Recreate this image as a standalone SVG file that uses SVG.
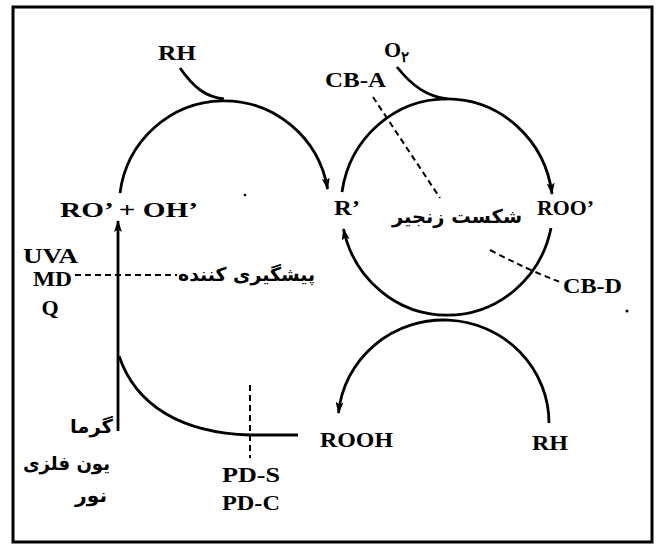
<svg xmlns="http://www.w3.org/2000/svg" width="660" height="546" viewBox="0 0 660 546">
<style>
.lat{font-family:"Liberation Serif","Times New Roman",serif;font-weight:bold;font-size:22px;fill:#000}
.sm{font-size:20px}
.fa{font-family:"DejaVu Sans",sans-serif;font-weight:bold;font-size:19px;fill:#000}
.ln{fill:none;stroke:#000;stroke-width:2.8}
.ds{fill:none;stroke:#000;stroke-width:2;stroke-dasharray:6 4}
</style>
<defs>
<marker id="ah" viewBox="0 0 12 8" refX="11" refY="4" markerWidth="12" markerHeight="8" markerUnits="userSpaceOnUse" orient="auto">
<path d="M0,0 L12,4 L0,8 L2.5,4 Z" fill="#000"/>
</marker>
</defs>
<rect x="13" y="7" width="639" height="535" fill="#fff" stroke="#000" stroke-width="3"/>
<g id="connectors">
<path class="ln" d="M120,193 A105,106 0 0 1 327.6,189" marker-end="url(#ah)"/>
<path class="ln" d="M180,68 C194,88 206,97 224,99"/>
<path class="ln" d="M342,192 A106,109 0 0 1 552,194" marker-end="url(#ah)"/>
<path class="ln" d="M397,67 C413,87 427,96 447,99"/>
<path class="ln" d="M551,228 A106,109 0 0 1 343.5,229" marker-end="url(#ah)"/>
<path class="ln" d="M549,423 A105.5,103 0 0 0 338.5,413" marker-end="url(#ah)"/>
<path class="ln" d="M118,431 L118,221" marker-end="url(#ah)"/>
<path class="ln" d="M119,356 C136,406 182,433 250,435 L298,435"/>
<line class="ds" x1="75" y1="275" x2="177" y2="275"/>
<line class="ds" x1="373" y1="97" x2="440" y2="198"/>
<path class="ds" d="M490,250 Q528,270 560,282"/>
<line class="ds" x1="250" y1="385" x2="250" y2="458"/>
</g>
<g id="node-RH-top"><text class="lat" x="177" y="60" text-anchor="middle" textLength="38" lengthAdjust="spacingAndGlyphs">RH</text></g>
<g id="node-O2"><text class="lat" x="384" y="57">O<tspan font-size="15" dy="5">۲</tspan></text></g>
<g id="node-CBA"><text class="lat" x="325" y="87" textLength="61" lengthAdjust="spacingAndGlyphs">CB-A</text></g>
<g id="node-RO-OH"><text class="lat" x="60" y="217" textLength="138" lengthAdjust="spacingAndGlyphs">RO’ + OH’</text></g>
<g id="node-R"><text class="lat" x="334" y="215" textLength="26" lengthAdjust="spacingAndGlyphs">R’</text></g>
<g id="node-ROO"><text class="lat" x="537" y="215" textLength="57" lengthAdjust="spacingAndGlyphs">ROO’</text></g>
<g id="node-chain"><text class="fa" x="457" y="223" text-anchor="middle" textLength="130" lengthAdjust="spacingAndGlyphs">شکست زنجیر</text></g>
<g id="node-CBD"><text class="lat" x="563" y="293" textLength="59" lengthAdjust="spacingAndGlyphs">CB-D</text></g>
<g id="node-prevent"><text class="fa" x="246.5" y="281" text-anchor="middle" textLength="137" lengthAdjust="spacingAndGlyphs">پیشگیری کننده</text></g>
<g id="node-UVA">
<text class="lat sm" x="50.5" y="263" text-anchor="middle" textLength="55" lengthAdjust="spacingAndGlyphs">UVA</text>
<text class="lat sm" x="52.5" y="286" text-anchor="middle" textLength="39" lengthAdjust="spacingAndGlyphs">MD</text>
<text class="lat" x="50" y="315" text-anchor="middle">Q</text>
</g>
<g id="node-heat">
<text class="fa" x="91.5" y="433" text-anchor="middle" textLength="43" lengthAdjust="spacingAndGlyphs">گرما</text>
<text class="fa" x="66.5" y="470" text-anchor="middle" textLength="87" lengthAdjust="spacingAndGlyphs">یون فلزی</text>
<text class="fa" x="91" y="502" text-anchor="middle" textLength="32" lengthAdjust="spacingAndGlyphs">نور</text>
</g>
<g id="node-ROOH"><text class="lat" x="320" y="447" textLength="73" lengthAdjust="spacingAndGlyphs">ROOH</text></g>
<g id="node-RH-bottom"><text class="lat" x="532" y="450" textLength="36" lengthAdjust="spacingAndGlyphs">RH</text></g>
<g id="node-PD">
<text class="lat" x="251" y="482" text-anchor="middle" textLength="58" lengthAdjust="spacingAndGlyphs">PD-S</text>
<text class="lat" x="251" y="510" text-anchor="middle" textLength="58" lengthAdjust="spacingAndGlyphs">PD-C</text>
</g>
<circle cx="627" cy="311" r="1.5" fill="#000"/>
<circle cx="245" cy="195" r="1.3" fill="#000"/>
</svg>
